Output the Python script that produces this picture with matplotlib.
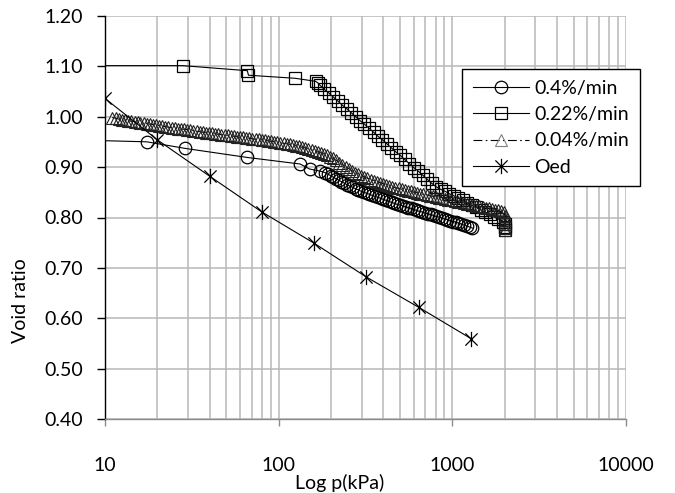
import matplotlib
matplotlib.use("Agg")
import matplotlib.pyplot as plt
from matplotlib.path import Path
from matplotlib.ticker import LogLocator, FixedLocator, NullFormatter, FuncFormatter

# ---------------- data ----------------
p_04 = [3, 17.4, 28.9, 66, 133, 151, 173,
        185, 192, 199, 206, 214, 222, 230, 239, 248, 257, 267, 277, 287, 298, 309, 321, 333,
        345, 358, 372, 386, 400, 415, 431, 447, 464, 481, 499, 518, 538, 558, 579, 601, 623,
        647, 671, 696, 723, 750, 778, 807, 838, 869, 902, 936, 971, 1008, 1046, 1085, 1126,
        1169, 1213, 1259, 1306]
e_04 = [0.957, 0.950, 0.937, 0.919, 0.906, 0.896, 0.892,
        0.889, 0.886, 0.883, 0.880, 0.877, 0.874, 0.871, 0.868, 0.865, 0.862, 0.860, 0.857,
        0.855, 0.852, 0.850, 0.848, 0.846, 0.844, 0.842, 0.840, 0.838, 0.836, 0.834, 0.832,
        0.830, 0.828, 0.826, 0.825, 0.823, 0.821, 0.819, 0.818, 0.816, 0.814, 0.812, 0.811,
        0.809, 0.807, 0.806, 0.804, 0.802, 0.801, 0.799, 0.797, 0.796, 0.794, 0.792, 0.791,
        0.789, 0.787, 0.785, 0.783, 0.781, 0.779]

p_022 = [3, 28, 66, 67, 124,
         163, 168, 173, 183, 194, 206, 219, 232, 246, 261, 277, 294, 312, 331, 352, 373, 396,
         420, 446, 473, 502, 532, 565, 599, 636, 675, 716, 759, 806, 855, 907, 962, 1021,
         1083, 1149, 1219, 1293, 1372, 1455, 1544, 1638, 1738, 1843, 1956, 2000, 2010, 2010]
e_022 = [1.101, 1.101, 1.091, 1.082, 1.076,
         1.070, 1.067, 1.062, 1.054, 1.047, 1.039, 1.031, 1.023, 1.016, 1.008, 1.000, 0.992,
         0.985, 0.977, 0.969, 0.961, 0.954, 0.946, 0.938, 0.930, 0.923, 0.915, 0.907, 0.899,
         0.892, 0.884, 0.876, 0.868, 0.861, 0.856, 0.852, 0.847, 0.843, 0.838, 0.834, 0.829,
         0.824, 0.820, 0.815, 0.811, 0.806, 0.801, 0.797, 0.792, 0.788, 0.782, 0.776]

p_004 = [11, 11.5, 12, 12.5, 13, 13.6, 14.2, 14.8, 15.4, 16, 16.7, 17.4, 18.1, 18.9, 19.7,
         20.5, 21.4, 22.3, 23.2, 24.2, 25.2, 26.3, 27.4, 28.6, 29.8, 31, 32.3, 33.7, 35.1,
         36.6, 38.1, 39.7, 41.4, 43.1, 44.9, 46.8, 48.8, 50.8, 53, 55.2, 57.5, 59.9, 62.4, 65,
         67.8, 70.6, 73.6, 76.7, 79.9, 83.3, 86.8, 90.4, 94.2, 98.2, 102, 107, 111, 116, 121,
         126, 131, 137, 142, 148, 155, 161, 168, 175, 182, 190, 198, 206, 215, 224, 233, 243,
         253, 264, 275, 287, 299, 311, 324, 338, 352, 367, 382, 398, 415, 433, 451, 470, 490,
         510, 532, 554, 578, 602, 627, 654, 681, 710, 740, 771, 804, 838, 873, 910, 948, 988,
         1030, 1073, 1118, 1166, 1215, 1266, 1319, 1375, 1433, 1493, 1556, 1622, 1690, 1761,
         1835, 1913, 1993, 2020, 2020, 2015, 2010, 2000]
e_004 = [0.998, 0.997, 0.995, 0.994, 0.993, 0.992, 0.991, 0.990, 0.989, 0.988, 0.987, 0.986,
         0.985, 0.984, 0.983, 0.982, 0.981, 0.980, 0.979, 0.978, 0.977, 0.976, 0.975, 0.975,
         0.974, 0.973, 0.972, 0.971, 0.970, 0.969, 0.968, 0.968, 0.967, 0.966, 0.965, 0.964,
         0.963, 0.963, 0.962, 0.961, 0.960, 0.959, 0.959, 0.958, 0.957, 0.956, 0.955, 0.955,
         0.954, 0.953, 0.952, 0.951, 0.950, 0.949, 0.948, 0.947, 0.946, 0.945, 0.944, 0.942,
         0.941, 0.939, 0.938, 0.936, 0.934, 0.932, 0.930, 0.928, 0.926, 0.923, 0.920, 0.917,
         0.913, 0.909, 0.905, 0.901, 0.897, 0.893, 0.889, 0.886, 0.883, 0.880, 0.878, 0.875,
         0.873, 0.871, 0.869, 0.867, 0.865, 0.863, 0.861, 0.859, 0.858, 0.856, 0.855, 0.853,
         0.852, 0.850, 0.849, 0.847, 0.846, 0.845, 0.843, 0.842, 0.841, 0.839, 0.838, 0.837,
         0.835, 0.834, 0.833, 0.831, 0.830, 0.829, 0.827, 0.826, 0.825, 0.823, 0.822, 0.821,
         0.819, 0.818, 0.817, 0.815, 0.814, 0.812, 0.811, 0.803, 0.795, 0.787, 0.780, 0.776]

p_oed = [10, 20, 40, 80, 160, 320, 640, 1280]
e_oed = [1.036, 0.954, 0.882, 0.811, 0.749, 0.682, 0.622, 0.560]

series_labels = ["0.4%/min", "0.22%/min", "0.04%/min", "Oed"]
x_ticks = [10, 100, 1000, 10000]
y_ticks = [0.40, 0.50, 0.60, 0.70, 0.80, 0.90, 1.00, 1.10, 1.20]

# ---------------- style ----------------
plt.rcParams['font.family'] = ['Lato', 'DejaVu Sans']
FS = 14

fig = plt.figure(figsize=(6.75, 4.93), dpi=100)
ax = fig.add_axes([105/675, 1-419.3/493, (626-105)/675, (419.3-15.7)/493])

star = Path([(-1, -1), (1, 1), (-1, 1), (1, -1), (0, -1.25), (0, 1.25)],
            [Path.MOVETO, Path.LINETO, Path.MOVETO, Path.LINETO, Path.MOVETO, Path.LINETO])

lw = 0.8
ax.plot(p_04, e_04, color='black', lw=lw, marker='o', ms=9, mfc='none', mec='black',
        mew=0.9, label=series_labels[0], zorder=3)
ax.plot(p_022, e_022, color='black', lw=lw, marker='s', ms=8.5, mfc='none', mec='black',
        mew=0.9, label=series_labels[1], zorder=3)
ax.plot(p_004, e_004, color='black', lw=lw, dashes=(8, 3, 1.5, 3), marker='^', ms=8,
        mfc='none', mec='#222222', mew=0.8, label=series_labels[2], zorder=3)
ax.plot(p_oed, e_oed, color='black', lw=lw, marker=star, ms=11, mfc='none', mec='black',
        mew=0.9, label=series_labels[3], zorder=3)

ax.set_xscale('log')
ax.set_xlim(10, 10000)
ax.set_ylim(0.40, 1.20)

ax.xaxis.set_major_locator(FixedLocator(x_ticks))
ax.xaxis.set_minor_locator(LogLocator(base=10, subs=range(2, 10)))
ax.xaxis.set_minor_formatter(NullFormatter())
ax.xaxis.set_major_formatter(FuncFormatter(lambda v, pos: f"{int(round(v))}"))
ax.yaxis.set_major_locator(FixedLocator(y_ticks))
ax.yaxis.set_major_formatter(FuncFormatter(lambda v, pos: f"{v:.2f}"))

gcol = '#b8b8b8'
ax.grid(True, which='both', axis='x', color=gcol, lw=1.1)
ax.grid(True, which='major', axis='y', color=gcol, lw=1.1)
ax.set_axisbelow(True)

for s in ['top', 'right']:
    ax.spines[s].set_visible(False)
ax.spines['left'].set_color('black')
ax.spines['left'].set_linewidth(1.0)
ax.spines['bottom'].set_color('#8c8c8c')
ax.spines['bottom'].set_linewidth(1.0)

ax.tick_params(axis='y', which='major', direction='out', length=6, width=1.0,
               color='black', pad=10, labelsize=FS, labelcolor='black')
ax.tick_params(axis='x', which='major', direction='out', length=5, width=1.0,
               color='#8c8c8c', pad=22, labelsize=FS, labelcolor='black')
ax.tick_params(axis='x', which='minor', length=0)

ax.set_xlabel('Log p(kPa)', fontsize=FS)
ax.xaxis.set_label_coords((340-105)/521, (419.3-483)/403.6)
ax.xaxis.label.set_va('center')
ax.set_ylabel('Void ratio', fontsize=FS)
ax.yaxis.set_label_coords((20-105)/521, (419.3-301)/403.6)
ax.yaxis.label.set_va('center')

leg = ax.legend(loc='upper left', bbox_to_anchor=(462/675, 1-69/493),
                bbox_transform=fig.transFigure, fontsize=FS, frameon=True, fancybox=False,
                shadow=False, edgecolor='black', framealpha=1, handlelength=2.9,
                borderpad=0.55, labelspacing=0.48, handletextpad=0.28, borderaxespad=0)
leg.get_frame().set_linewidth(1.0)
leg.set_clip_on(False)
for h in leg.get_lines():
    if h.get_label() == series_labels[2]:
        h.set_markeredgecolor('#808080')

fig.savefig('out.png', dpi=100)
